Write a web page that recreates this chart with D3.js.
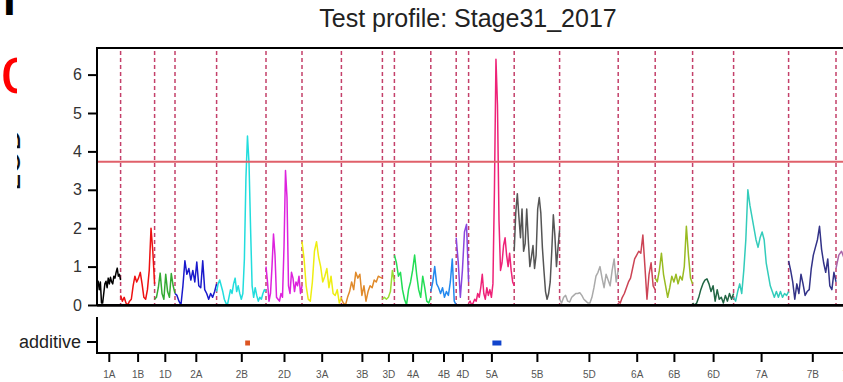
<!DOCTYPE html>
<html>
<head>
<meta charset="utf-8">
<script src="https://cdn.jsdelivr.net/npm/d3@7"></script>
<style>
  html, body { margin: 0; padding: 0; background: #fff; }
  svg { display: block; font-family: "Liberation Sans", Arial, Helvetica, sans-serif; }
</style>
</head>
<body>
<div id="chart"></div>
<script>
// chromosomes, lengths in cM and the colour each profile is drawn in
const chromosomes = ["1A","1B","1D","2A","2B","2D","3A","3B","3D","4A","4B","4D","5A","5B","5D","6A","6B","6D","7A","7B","7D"];
const chromLengths = [118,170,102,208,247,180,197,205,60,182,127,62,228,227,293,185,187,205,275,237,125];
const chromColors = ["#000000","#ee1111","#33aa33","#1a1acc","#22dddd","#dd22dd","#eeee11","#e08a2a","#99dd33","#22dd55",
                     "#2288ee","#8844dd","#ee2277","#555555","#aaaaaa","#cc4455","#99bb22","#226644","#33ccbb","#333388","#aa66aa"];

// LOD readings, evenly spaced along each chromosome
const lod1A = [0.55,0.62,0.4,0.6,0.05,0.05,0.3,0.55,0.62,0.45,0.7,0.55,0.72,0.6,0.55,0.75,0.7,0.85,0.96,0.75,0.8,0.65];
const lod1B = [0.25,0.1,0.2,0.05,0.0,0.1,0.15,0.5,0.75,0.6,0.7,0.85,0.55,0.2,0.15,0.4,0.9,2.0,1.4,0.55];
const lod1D = [0.15,0.2,0.45,0.83,0.3,0.15,0.8,0.35,0.2,0.82,0.5,0.3];
const lod2A = [0.3,0.25,0.1,0.0,0.5,1.15,0.8,0.95,0.65,0.9,0.6,1.12,0.5,0.45,1.15,0.4,0.3,0.15,0.3,0.2,0.35,0.55];
const lod2B = [0.35,0.55,0.65,0.5,0.35,0.15,0.05,0.0,0.2,0.4,0.3,0.55,0.7,0.35,0.5,0.3,0.15,0.3,1.2,3.3,4.4,3.7,2.0,0.5,0.2,0.45,0.25,0.1,0.2,0.15,0.3,0.4,0.35];
const lod2D = [1.0,0.6,0.1,0.3,1.0,1.85,1.3,0.2,0.15,0.1,0.3,0.2,1.5,3.5,2.8,0.5,0.3,0.85,0.7,0.35,0.6,0.5,0.75,0.3,0.5];
const lod3A = [1.65,1.2,0.5,0.15,0.1,0.6,1.4,1.65,1.25,1.0,0.6,0.75,0.95,0.45,0.75,0.3,0.25,0.4,0.05,0.2];
const lod3B = [0.15,0.05,0.0,0.2,0.35,0.6,0.4,0.85,0.7,0.8,0.25,0.5,0.1,0.35,0.5,0.45,0.65,0.6,0.75,0.72,0.7];
const lod3D = [0.15,0.2,0.15,0.2,0.35,0.9,0.6];
const lod4A = [1.3,1.1,0.75,0.85,0.4,0.15,0.0,0.4,0.6,0.9,1.3,0.8,0.4,0.2,0.75,0.45,0.1,0.05,0.2];
const lod4B = [0.35,0.6,1.0,0.55,0.45,0.3,0.45,0.2,0.35,0.25,0.6,1.2,0.1,0.0];
const lod4D = [1.75,1.1,0.2,0.9,1.9,2.1,0.6];
const lod5A = [0.05,0.1,0.0,0.05,0.15,0.1,0.3,0.2,0.45,0.8,0.3,0.15,0.45,0.25,0.4,0.2,0.55,3.0,6.4,5.2,2.2,0.9,1.1,1.55,1.75,1.3,1.0,1.35,0.9,0.6,0.5];
const lod5B = [1.4,2.4,2.9,2.3,1.75,2.5,1.4,1.6,2.5,1.7,1.0,1.25,1.55,0.95,1.3,2.5,2.8,2.4,1.5,0.9,0.35,0.15,0.3,0.6,1.4,2.35,1.8,1.0,1.5,1.95];
const lod5D = [0.15,0.05,0.2,0.25,0.1,0.08,0.2,0.25,0.3,0.3,0.32,0.25,0.15,0.1,0.05,0.05,0.2,0.45,0.75,0.85,1.0,0.7,0.45,0.8,0.65,0.5,0.9,1.2,0.6,0.9];
const lod6A = [0.1,0.05,0.2,0.3,0.45,0.6,0.7,0.95,1.2,1.3,1.4,1.35,1.82,1.0,0.15,0.8,1.1,0.5,0.4];
const lod6B = [0.7,0.6,0.9,1.35,0.8,0.5,0.2,0.45,0.75,0.6,0.8,0.55,0.75,0.65,1.0,2.05,1.3,0.7,0.55];
const lod6D = [0.05,0.0,0.05,0.2,0.4,0.55,0.65,0.68,0.55,0.35,0.5,0.1,0.4,0.15,0.2,0.05,0.25,0.1,0.3,0.15,0.3];
const lod7A = [0.2,0.1,0.35,0.55,0.3,0.9,1.7,3.0,2.6,2.3,2.0,1.7,1.5,1.75,1.9,1.7,1.1,0.8,0.5,0.35,0.2,0.35,0.2,0.35,0.2,0.3,0.25,0.35];
const lod7B = [1.15,0.9,0.6,0.15,0.55,0.3,0.8,0.55,0.25,0.35,0.4,0.95,1.3,1.5,1.7,2.05,1.45,1.1,0.85,1.2,0.5,0.4,0.85,0.6];
const lod7D = [0.95,1.3,1.4,1.2,1.0,0.8,0.6,0.9,0.7,0.5];

const yTicks = [0, 1, 2, 3, 4, 5, 6];
const lodThreshold = 3.73;

// additive QTL intervals (chromosome, start cM, end cM)
const qtlChroms = ["2B", "5A"];
const qtlStart = [143, 119];
const qtlEnd = [167, 164];
const qtlColors = ["#dd5522", "#1144cc"];

const lodByChrom = {
    "1A": lod1A, "1B": lod1B, "1D": lod1D, "2A": lod2A, "2B": lod2B, "2D": lod2D,
    "3A": lod3A, "3B": lod3B, "3D": lod3D, "4A": lod4A, "4B": lod4B, "4D": lod4D,
    "5A": lod5A, "5B": lod5B, "5D": lod5D, "6A": lod6A, "6B": lod6B, "6D": lod6D,
    "7A": lod7A, "7B": lod7B, "7D": lod7D
};

const width = 843, height = 382;
const plotLeft = 97, plotTop = 48, plotBottom = 305;
const addTop = 317, addBottom = 353;
const pxPerCM = 0.2;

const svg = d3.select("#chart").append("svg")
    .attr("width", width)
    .attr("height", height)
    .attr("viewBox", `0 0 ${width} ${height}`);

// fragments of neighbouring panels cut by the crop
const defs = svg.append("defs");
defs.append("clipPath").attr("id", "clipLeft")
    .append("rect").attr("x", 0).attr("y", 0).attr("width", 17).attr("height", height);
defs.append("clipPath").attr("id", "clipStrip")
    .append("rect").attr("x", 17).attr("y", 0).attr("width", 4).attr("height", height);

svg.append("text")
    .attr("x", 3).attr("y", 15)
    .attr("font-weight", "bold")
    .style("font-size", "46px")
    .attr("fill", "#000")
    .text("I");

svg.append("text")
    .attr("clip-path", "url(#clipLeft)")
    .attr("x", 0.5).attr("y", 93)
    .style("font-size", "66px")
    .attr("fill", "#ff0000")
    .text("c");

svg.append("g").attr("clip-path", "url(#clipStrip)")
    .append("text")
    .attr("transform", "translate(20,160) rotate(-90)")
    .attr("text-anchor", "middle")
    .style("font-size", "30px")
    .attr("fill", "#111")
    .text("LOD");

// scales
const total = d3.sum(chromLengths);
const plotRight = plotLeft + total * pxPerCM;
const x = d3.scaleLinear().domain([0, total]).range([plotLeft, plotRight]);
const y = d3.scaleLinear().domain([0, 6]).range([plotBottom, 74.6]);
const chromStart = [0, ...Array.from(d3.cumsum(chromLengths))].slice(0, chromosomes.length);
const chromMid = chromStart.map((s, i) => s + chromLengths[i] / 2);

// title
svg.append("text")
    .attr("x", 468).attr("y", 27)
    .attr("text-anchor", "middle")
    .style("font-size", "25px")
    .attr("fill", "#222")
    .text("Test profile: Stage31_2017");

// chromosome boundaries
svg.append("g")
    .selectAll("line")
    .data(chromStart.slice(1))
    .join("line")
    .attr("x1", d => x(d)).attr("x2", d => x(d))
    .attr("y1", plotTop + 3).attr("y2", plotBottom)
    .attr("stroke", "#c4406a")
    .attr("stroke-width", 1.5)
    .attr("stroke-dasharray", "4,3");

// LOD profiles
const line = d3.line()
    .x(d => x(d[0]))
    .y(d => y(d[1]));

svg.append("g")
    .selectAll("path")
    .data(chromosomes)
    .join("path")
    .attr("fill", "none")
    .attr("stroke", (c, i) => chromColors[i])
    .attr("stroke-width", 1.5)
    .attr("stroke-linejoin", "round")
    .attr("d", (c, i) => {
        const vals = lodByChrom[c];
        const n = vals.length;
        return line(vals.map((v, k) => [chromStart[i] + k / (n - 1) * chromLengths[i], v]));
    });

// significance threshold
svg.append("line")
    .attr("x1", plotLeft).attr("x2", plotRight)
    .attr("y1", y(lodThreshold)).attr("y2", y(lodThreshold))
    .attr("stroke", "#e0606a")
    .attr("stroke-width", 2);

// frame of the profile panel
svg.append("rect")
    .attr("x", plotLeft).attr("y", plotTop)
    .attr("width", plotRight - plotLeft).attr("height", plotBottom - plotTop)
    .attr("fill", "none")
    .attr("stroke", "#000")
    .attr("stroke-width", 2);
svg.append("line")
    .attr("x1", plotLeft).attr("x2", plotRight)
    .attr("y1", plotBottom + 0.5).attr("y2", plotBottom + 0.5)
    .attr("stroke", "#000")
    .attr("stroke-width", 2.5);

const yAxis = svg.append("g")
    .attr("transform", `translate(${plotLeft},0)`)
    .call(d3.axisLeft(y).tickValues(yTicks).tickFormat(d3.format("d")).tickSize(9).tickPadding(6));
yAxis.select(".domain").remove();
yAxis.selectAll(".tick line").attr("stroke", "#000").attr("stroke-width", 2);
yAxis.selectAll(".tick text")
    .style("font-size", "16px")
    .style("font-family", "'Liberation Sans', Arial, sans-serif")
    .attr("fill", "#333");

// additive effects panel
const yAdd = d3.scaleBand().domain(["additive"]).range([331, addBottom]);

svg.append("line")
    .attr("x1", plotLeft).attr("x2", plotLeft)
    .attr("y1", addTop).attr("y2", addBottom)
    .attr("stroke", "#000").attr("stroke-width", 2);

const addAxis = svg.append("g")
    .attr("transform", `translate(${plotLeft},0)`)
    .call(d3.axisLeft(yAdd).tickSize(10).tickPadding(6));
addAxis.select(".domain").remove();
addAxis.selectAll(".tick line").attr("stroke", "#000").attr("stroke-width", 2);
addAxis.selectAll(".tick text")
    .style("font-size", "18px")
    .style("font-family", "'Liberation Sans', Arial, sans-serif")
    .attr("fill", "#222");

svg.append("g")
    .selectAll("rect")
    .data(qtlChroms)
    .join("rect")
    .attr("x", (c, i) => x(chromStart[chromosomes.indexOf(c)] + qtlStart[i]))
    .attr("width", (c, i) => x(qtlEnd[i]) - x(qtlStart[i]))
    .attr("y", yAdd("additive") + yAdd.bandwidth() / 2 - 1.5)
    .attr("height", 5)
    .attr("fill", (c, i) => qtlColors[i]);

const xAxis = svg.append("g")
    .attr("transform", `translate(0,${addBottom})`)
    .call(d3.axisBottom(x).tickValues(chromMid).tickFormat((d, i) => chromosomes[i]).tickSize(9).tickPadding(9));
xAxis.select(".domain").remove();
xAxis.selectAll(".tick line").attr("stroke", "#000").attr("stroke-width", 2);
xAxis.selectAll(".tick text")
    .style("font-size", "10px")
    .style("font-family", "'Liberation Sans', Arial, sans-serif")
    .attr("fill", "#555");

svg.append("line")
    .attr("x1", plotLeft - 1).attr("x2", plotRight)
    .attr("y1", addBottom).attr("y2", addBottom)
    .attr("stroke", "#000").attr("stroke-width", 2);
</script>
</body>
</html>
